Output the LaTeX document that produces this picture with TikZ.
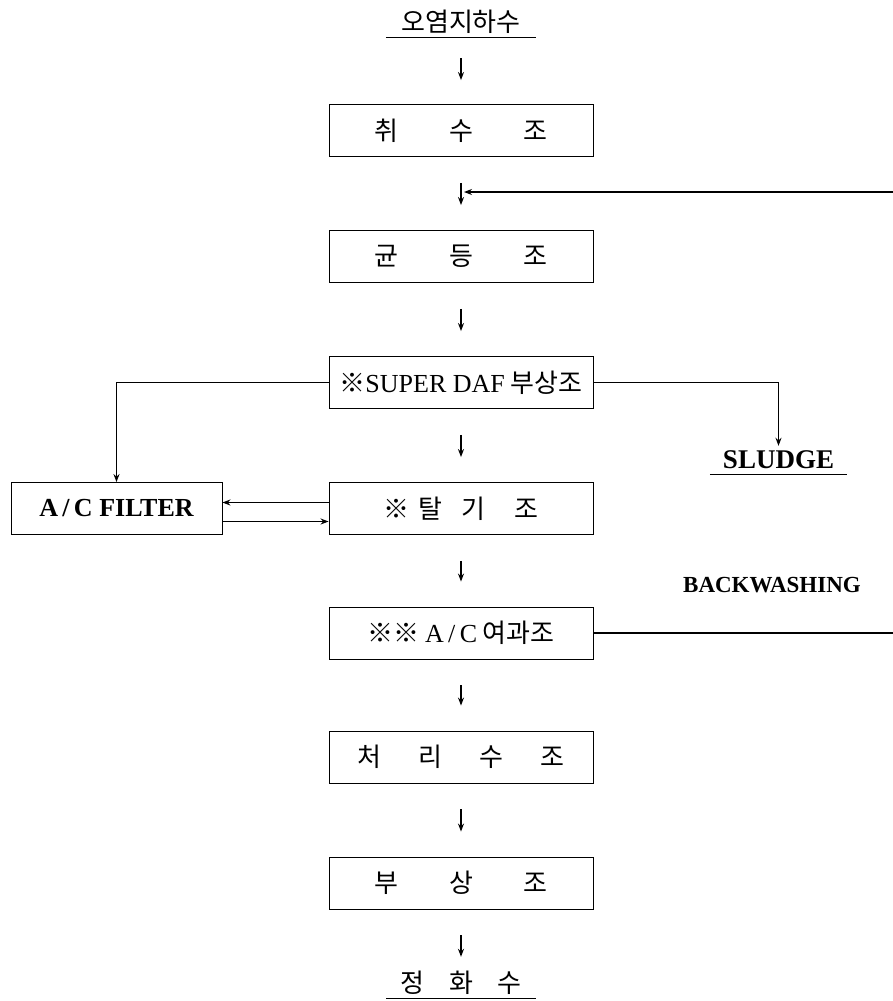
\documentclass[tikz,border=0pt]{standalone}
\usepackage{fontspec}
\setmainfont{Liberation Serif}
\newfontfamily\kr{Noto Sans CJK KR}
\usepackage{tikz}
\usetikzlibrary{arrows.meta, positioning}
\tikzset{
  box/.style={draw, line width=0.9pt, minimum width=264pt, minimum height=52pt,
              inner sep=0pt, font=\kr\fontsize{26}{30}\selectfont},
  endlbl/.style={inner sep=0pt, font=\kr\fontsize{26}{30}\selectfont},
  latin/.style={inner sep=0pt, font=\rmfamily\bfseries\fontsize{#1}{#1}\selectfont},
  flow/.style={-{Stealth[length=8pt, width=6pt]}, line width=1.2pt},
  gaparrow/.style={flow, shorten <=26pt, shorten >=25pt},
  uline/.style={line width=1.2pt},
}

\begin{document}
\begin{tikzpicture}[x=1pt, y=-1pt]
  \useasboundingbox (0,0) rectangle (893,1001);

  % main line of tanks
  \node[endlbl, minimum width=150pt, minimum height=30pt] (src) at (461,22) {오염지하수};
  \node[box] (intake) at (461,130.5) {취\hspace{51pt}수\hspace{51pt}조};
  \node[box] (equal) at (461,256.5) {균\hspace{51pt}등\hspace{51pt}조};
  \node[box] (daf) at (461,382.5) {※{\rmfamily SUPER DAF} 부상조};
  \node[box] (strip) at (461,508.5) {※\hspace{9pt}탈\hspace{19pt}기\hspace{30pt}조};
  \node[box] (acf) at (461,633) {※※ {\rmfamily A\,/\,C} 여과조};
  \node[box] (treated) at (461,757) {처\hspace{37pt}리\hspace{37pt}수\hspace{37pt}조};
  \node[box] (float) at (461,883) {부\hspace{51pt}상\hspace{51pt}조};
  \node[endlbl, minimum width=149pt, minimum height=30pt] (clean) at (461,983) {정\hspace{25pt}화\hspace{25pt}수};

  % side units
  \node[box, minimum width=211pt] (filter) at (116.5,508.5)
    {\rmfamily\bfseries\fontsize{26}{30}\selectfont A\,/\,C FILTER};
  \node[latin=27, minimum width=137pt, minimum height=28pt] (sludge) at (778.5,460) {SLUDGE};
  \node[latin=23] (bwlbl) at (772,585) {BACKWASHING};

  \draw[uline] (src.south west) -- (src.south east);
  \draw[uline] (sludge.south west) -- (sludge.south east);
  \draw[uline] (clean.south west) -- (clean.south east);

  % flow arrows
  \draw[flow, shorten <=21pt, shorten >=24pt] (src.south) -- (intake.north);
  \draw[gaparrow] (intake.south) -- (equal.north);
  \draw[gaparrow] (equal.south) -- (daf.north);
  \draw[gaparrow] (daf.south) -- (strip.north);
  \draw[gaparrow] (strip.south) -- (acf.north);
  \draw[gaparrow] (acf.south) -- (treated.north);
  \draw[gaparrow] (treated.south) -- (float.north);
  \draw[flow, shorten <=26pt, shorten >=11pt] (float.south) -- (clean.north);

  % branches
  \draw[flow] (daf.west) -| (filter.north);
  \draw[flow] (daf.east) -| (sludge.north);
  \draw[flow] ([yshift=6pt]strip.west) -- ([yshift=6pt]strip.west -| filter.east);
  \draw[flow] ([yshift=-13pt]filter.east) -- ([yshift=-13pt]filter.east -| strip.west);

  % backwashing return
  \coordinate (ret) at (893,192);
  \coordinate (bwend) at (893,633);
  \draw[flow, shorten >=3pt] (ret) -- (ret -| intake.south);
  \draw[uline] (acf.east) -- (acf.east -| bwend);
\end{tikzpicture}
\end{document}
